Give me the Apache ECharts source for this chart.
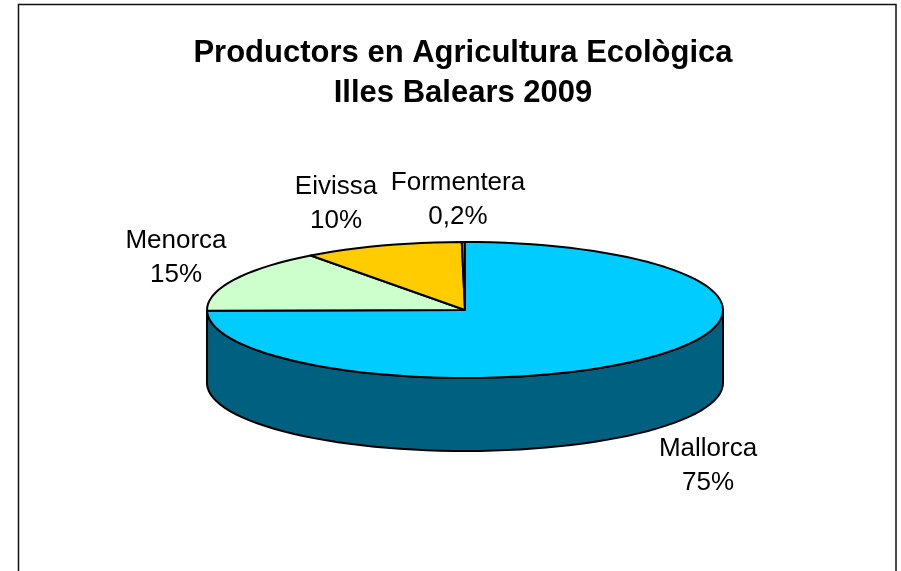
<!DOCTYPE html>
<html style="height: 100%;">
<head>
<meta charset="utf-8">
<title>Productors en Agricultura Ecològica</title>
<script src="https://cdn.jsdelivr.net/npm/echarts@6/dist/echarts.min.js"></script>
</head>
<body style="height: 100%; margin: 0; background: #fff">
<div id="container" style="width: 901px; height: 571px"></div>
<script>
var categories = ['Mallorca', 'Menorca', 'Eivissa', 'Formentera'];
var values = [74.8, 15, 10, 0.2];
var percentLabels = ['75%', '15%', '10%', '0,2%'];
var topColors = ['#00ccff', '#ccffcc', '#ffcc00', '#ff00ff'];
var wallColors = ['#006080', '#668066', '#806600', '#800080'];

// geometry of the tilted pie
var cx = 465, cy = 310, rx = 258, ry = 68, depth = 73;
var labelCenters = [[708, 449], [176, 241], [336, 187], [458, 183]];
var fontFamily = '"Liberation Sans", Arial, sans-serif';

var total = values.reduce(function (a, b) { return a + b; }, 0);

// angle measured clockwise from 12 o'clock
function pt(angle, dy) {
    return [cx + rx * Math.sin(angle), cy - ry * Math.cos(angle) + (dy || 0)];
}
function arc(from, to, dy) {
    var n = Math.max(1, Math.ceil((to - from) / (Math.PI / 60)));
    var pts = [];
    for (var i = 0; i <= n; i++) {
        pts.push(pt(from + (to - from) * i / n, dy));
    }
    return pts;
}

function renderSlice(params, api) {
    var i = params.dataIndex;
    var start = 0;
    for (var k = 0; k < i; k++) start += values[k];
    var a0 = start / total * Math.PI * 2;
    var a1 = (start + values[i]) / total * Math.PI * 2;
    var children = [];
    var style = { lineWidth: 2, stroke: '#000', lineJoin: 'round' };

    // only the front half of the rim shows a wall
    var w0 = Math.max(a0, Math.PI / 2), w1 = Math.min(a1, Math.PI * 3 / 2);
    if (w1 > w0) {
        var wall = arc(w0, w1, 0).concat(arc(w0, w1, depth).reverse());
        children.push({
            type: 'polygon',
            shape: { points: wall },
            style: Object.assign({ fill: wallColors[i] }, style)
        });
    }
    children.push({
        type: 'polygon',
        shape: { points: [[cx, cy]].concat(arc(a0, a1)) },
        style: Object.assign({ fill: topColors[i] }, style)
    });
    var c = labelCenters[i];
    children.push({
        type: 'text',
        style: {
            text: categories[i] + '\n' + percentLabels[i],
            x: c[0], y: c[1],
            align: 'center', verticalAlign: 'middle',
            font: '26px ' + fontFamily,
            lineHeight: 34,
            fill: '#000'
        }
    });
    // label block is centred on its two lines
    children[children.length - 1].style.y = c[1] + 17;
    return { type: 'group', children: children };
}

var myChart = echarts.init(document.getElementById('container'));
myChart.setOption({
    animation: false,
    backgroundColor: '#fff',
    title: {
        text: 'Productors en Agricultura Ecològica\nIlles Balears 2009',
        left: 458, top: 28, textAlign: 'center',
        textStyle: { fontFamily: fontFamily, fontWeight: 'bold', fontSize: 31, lineHeight: 40, color: '#000' }
    },
    graphic: [{
        type: 'polyline',
        shape: { points: [[18.5, 571], [18.5, 4.5], [896, 4.5], [896, 571]] },
        style: { stroke: '#111', lineWidth: 1.5, fill: null }
    }],
    series: [{
        type: 'custom',
        coordinateSystem: 'none',
        renderItem: renderSlice,
        silent: true,
        data: values
    }]
});
</script>
</body>
</html>
